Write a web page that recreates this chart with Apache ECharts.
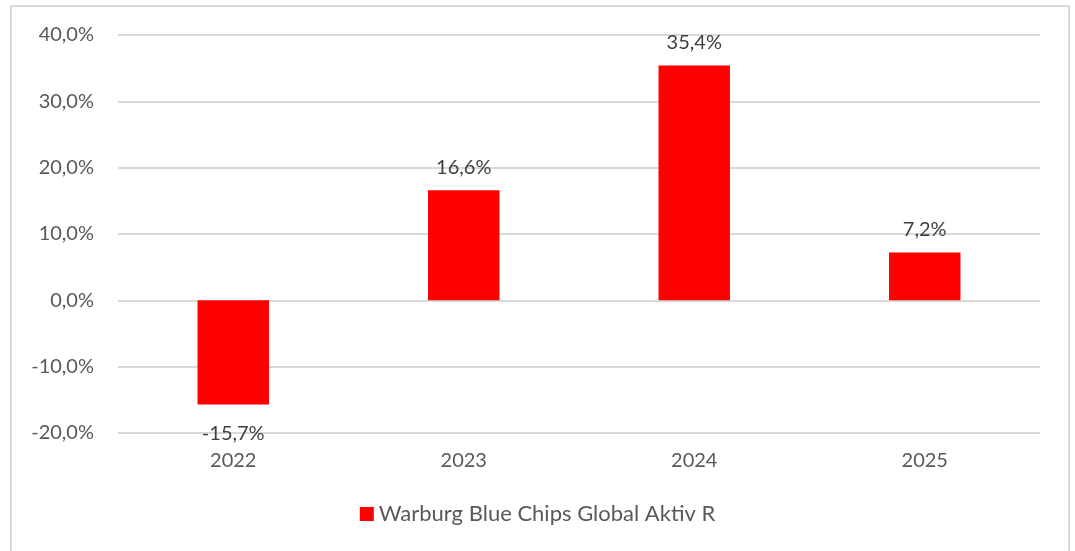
<!DOCTYPE html>
<html>
<head>
<meta charset="utf-8">
<script src="https://cdn.jsdelivr.net/npm/echarts@6/dist/echarts.min.js"></script>
<style>
  html, body { margin: 0; padding: 0; background: #fff; }
  #chart { width: 1075px; height: 551px; }
</style>
</head>
<body>
<div id="chart"></div>
<script>
var years = ['2022', '2023', '2024', '2025']
var returns = [-15.7, 16.6, 35.4, 7.2] // Jahresrendite in %
var seriesName = 'Warburg Blue Chips Global Aktiv R'

var fontFam = 'Lato, "Open Sans", sans-serif'

function fmt(v) {
  return v.toFixed(1).replace('.', ',') + '%'
}

var barData = returns.map(function (v) {
  if (v < 0) {
    return { value: v, label: { position: 'bottom', distance: 19 } }
  }
  return v
})

var chart = echarts.init(document.getElementById('chart'))
chart.setOption({
  animation: false,
  graphic: [{
    type: 'rect',
    shape: { x: 11, y: 6, width: 1058, height: 560 },
    style: { fill: 'none', stroke: '#d9d9d9', lineWidth: 2 },
    silent: true
  }],
  grid: {
    left: 118,
    right: 35,
    top: 35,
    bottom: 118
  },
  legend: {
    data: [seriesName],
    bottom: 21,
    left: 'center',
    icon: 'rect',
    itemWidth: 14,
    itemHeight: 14,
    itemGap: 6,
    textStyle: { color: '#595959', fontSize: 22, fontFamily: fontFam }
  },
  xAxis: {
    type: 'category',
    data: years,
    axisLine: { show: false },
    axisTick: { show: false },
    axisLabel: { color: '#595959', fontSize: 20, fontFamily: fontFam, margin: 18 }
  },
  yAxis: {
    type: 'value',
    min: -20,
    max: 40,
    interval: 10,
    axisLine: { show: false },
    axisTick: { show: false },
    splitLine: { lineStyle: { color: '#d9d9d9', width: 2 } },
    axisLabel: {
      color: '#595959',
      fontSize: 20,
      fontFamily: fontFam,
      margin: 24,
      formatter: function (v) { return fmt(v) }
    }
  },
  series: [{
    name: seriesName,
    type: 'bar',
    data: barData,
    barWidth: '31%',
    itemStyle: { color: '#ff0000' },
    label: {
      show: true,
      position: 'top',
      distance: 13,
      color: '#404040',
      fontSize: 20,
      fontFamily: fontFam,
      formatter: function (p) { return fmt(p.value) }
    }
  }]
})
</script>
</body>
</html>
